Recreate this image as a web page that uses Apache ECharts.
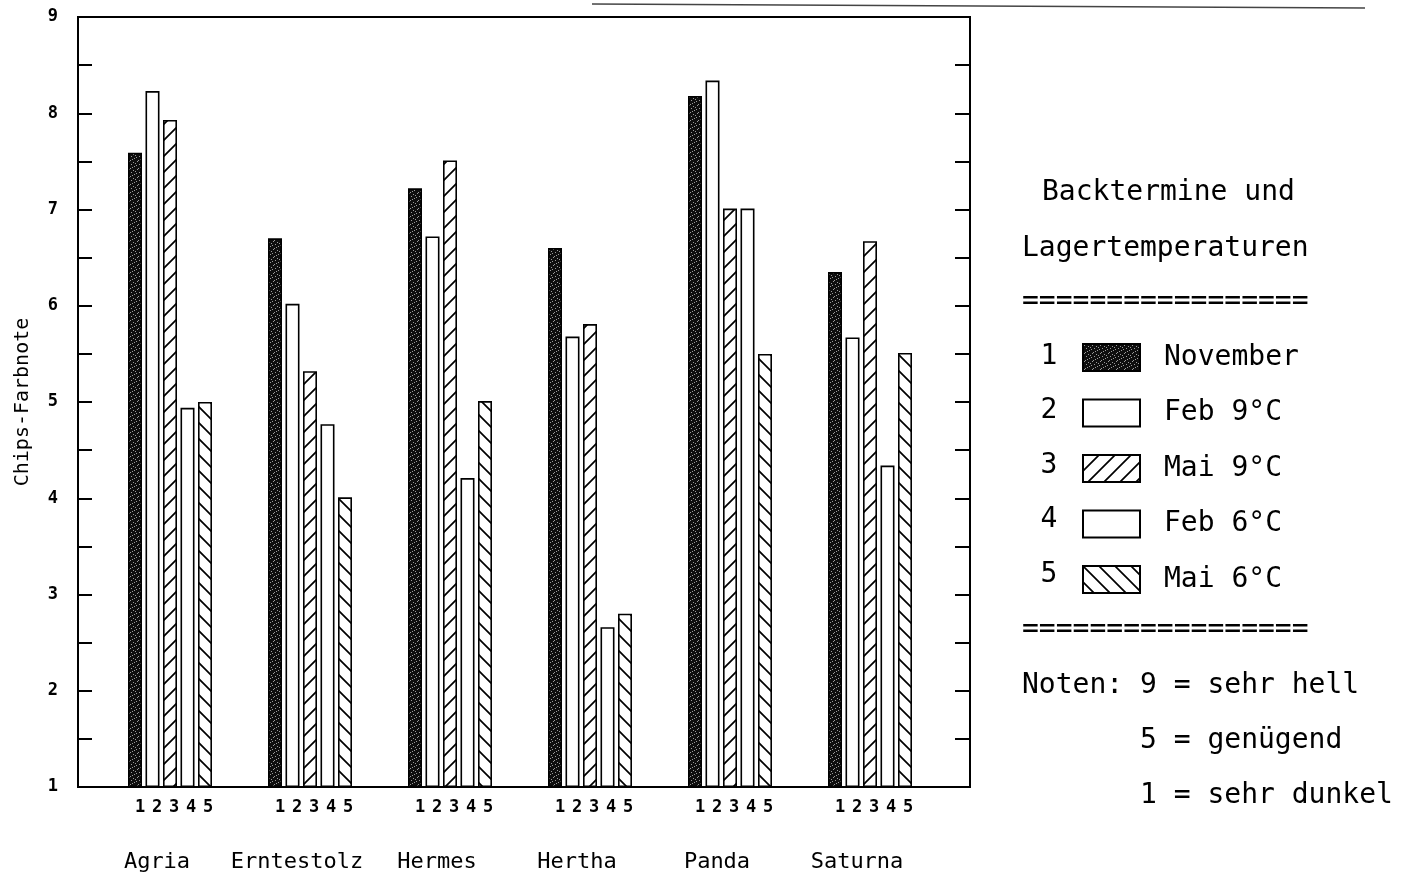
<!DOCTYPE html>
<html><head><meta charset="utf-8">
<script src="https://cdn.jsdelivr.net/npm/echarts@6/dist/echarts.min.js"></script>
<style>html,body{margin:0;padding:0;background:#fff}#c{width:1407px;height:878px}</style>
</head><body><div id="c"></div>
<script>
// ---- data ----
const categories = ['Agria', 'Erntestolz', 'Hermes', 'Hertha', 'Panda', 'Saturna'];
const seriesNames = ['November', 'Feb 9°C', 'Mai 9°C', 'Feb 6°C', 'Mai 6°C'];
const seriesNumbers = ['1', '2', '3', '4', '5'];
const november = [7.59, 6.70, 7.22, 6.60, 8.18, 6.35];
const feb9     = [8.23, 6.02, 6.72, 5.68, 8.34, 5.67];
const mai9     = [7.93, 5.32, 7.51, 5.81, 7.01, 6.67];
const feb6     = [4.94, 4.77, 4.21, 2.66, 7.01, 4.34];
const mai6     = [5.00, 4.01, 5.01, 2.80, 5.50, 5.51];
const yMin = 1, yMax = 9;
const yAxisName = 'Chips-Farbnote';
const legendTitle = ['Backtermine und', 'Lagertemperaturen'];
const separator = '=================';
const notes = ['Noten: 9 = sehr hell', '5 = genügend', '1 = sehr dunkel'];

const allSeries = [november, feb9, mai9, feb6, mai6];
const MONO = 'DejaVu Sans Mono';

function hatch(dir) {
  const s = 16, c = document.createElement('canvas');
  c.width = c.height = s;
  const g = c.getContext('2d');
  g.fillStyle = '#fff'; g.fillRect(0, 0, s, s);
  g.strokeStyle = '#000'; g.lineWidth = 1.7; g.beginPath();
  if (dir > 0) {
    g.moveTo(-2, s + 2); g.lineTo(s + 2, -2);
    g.moveTo(-2, 2); g.lineTo(2, -2);
    g.moveTo(s - 2, s + 2); g.lineTo(s + 2, s - 2);
  } else {
    g.moveTo(-2, -2); g.lineTo(s + 2, s + 2);
    g.moveTo(s - 2, -2); g.lineTo(s + 2, 2);
    g.moveTo(-2, s - 2); g.lineTo(2, s + 2);
  }
  g.stroke();
  return c;
}
function stipple() {
  const s = 8, c = document.createElement('canvas');
  c.width = c.height = s;
  const g = c.getContext('2d');
  g.fillStyle = '#0e0e0e'; g.fillRect(0, 0, s, s);
  g.fillStyle = '#9a9a9a';
  [[1,1],[5,2],[3,4],[6,6],[0,5],[4,7],[7,3],[2,0]].forEach(p => g.fillRect(p[0], p[1], 1, 1));
  return c;
}
const fills = [
  {image: stipple(), repeat: 'repeat'},
  '#ffffff',
  {image: hatch(1), repeat: 'repeat'},
  '#ffffff',
  {image: hatch(-1), repeat: 'repeat'}
];

const chart = echarts.init(document.getElementById('c'), null, {renderer: 'canvas'});

const legendRowY = [357, 411, 466, 520, 575];
const graphic = [
  {type: 'line', shape: {x1: 592, y1: 4, x2: 1365, y2: 8}, style: {stroke: '#444', lineWidth: 1.5}, silent: true},
  {type: 'text', x: 1042, y: 193, style: {text: legendTitle[0], font: '28px ' + MONO, fill: '#000', textVerticalAlign: 'middle'}},
  {type: 'text', x: 1022, y: 249, style: {text: legendTitle[1], font: '28px ' + MONO, fill: '#000', textVerticalAlign: 'middle'}},
  {type: 'text', x: 1022, y: 302, style: {text: separator, font: '28px ' + MONO, fill: '#000', textVerticalAlign: 'middle'}},
  {type: 'text', x: 1022, y: 630, style: {text: separator, font: '28px ' + MONO, fill: '#000', textVerticalAlign: 'middle'}},
  {type: 'text', x: 1022, y: 686, style: {text: notes[0], font: '28px ' + MONO, fill: '#000', textVerticalAlign: 'middle'}},
  {type: 'text', x: 1140, y: 741, style: {text: notes[1], font: '28px ' + MONO, fill: '#000', textVerticalAlign: 'middle'}},
  {type: 'text', x: 1140, y: 796, style: {text: notes[2], font: '28px ' + MONO, fill: '#000', textVerticalAlign: 'middle'}}
];
seriesNumbers.forEach((n, i) => graphic.push({
  type: 'text', x: 1049, y: legendRowY[i],
  style: {text: n, font: '28px ' + MONO, fill: '#000', textAlign: 'center', textVerticalAlign: 'middle'}
}));

const option = {
  animation: false,
  backgroundColor: '#fff',
  grid: [
    {left: 78, top: 17, width: 892, height: 770, show: true, borderColor: '#000', borderWidth: 2, backgroundColor: 'transparent'},
    {left: 100, top: 17, width: 840, height: 770}
  ],
  xAxis: [
    {gridIndex: 0, type: 'value', show: false, min: 0, max: 1},
    {gridIndex: 1, type: 'category', data: categories, position: 'bottom',
     axisLine: {show: false}, axisTick: {show: false},
     axisLabel: {
       interval: 0, margin: 12, padding: [0, 0, 0, 8],
       formatter: () => seriesNumbers.map(n => '{d|' + n + '}').join(''),
       rich: {d: {width: 17, align: 'center', fontFamily: MONO, fontWeight: 'bold', fontSize: 17, color: '#000'}}
     }},
    {gridIndex: 1, type: 'category', data: categories, position: 'bottom',
     axisLine: {show: false}, axisTick: {show: false},
     axisLabel: {interval: 0, margin: 64, padding: [0, 26, 0, 0], fontFamily: MONO, fontSize: 22, color: '#000'}}
  ],
  yAxis: [
    {gridIndex: 0, type: 'value', min: yMin, max: yMax, interval: 0.5, position: 'left',
     name: yAxisName, nameLocation: 'middle', nameGap: 45, nameRotate: 90,
     nameTextStyle: {fontFamily: MONO, fontSize: 20, color: '#000'},
     axisLine: {show: true, lineStyle: {color: '#000', width: 2}},
     axisTick: {show: true, inside: true, length: 14, lineStyle: {color: '#000', width: 2}},
     axisLabel: {margin: 20, fontFamily: MONO, fontWeight: 'bold', fontSize: 17, color: '#000',
       formatter: v => Number.isInteger(v) ? String(v) : ''},
     splitLine: {show: false}},
    {gridIndex: 0, type: 'value', min: yMin, max: yMax, interval: 0.5, position: 'right',
     axisLine: {show: true, lineStyle: {color: '#000', width: 2}},
     axisTick: {show: true, inside: true, length: 15, lineStyle: {color: '#000', width: 2}},
     axisLabel: {show: false}, splitLine: {show: false}},
    {gridIndex: 1, type: 'value', min: yMin, max: yMax, startValue: yMin, show: false, splitLine: {show: false}}
  ],
  legend: {
    orient: 'vertical', left: 1082, top: 343, itemWidth: 57, itemHeight: 27, itemGap: 26.5,
    icon: 'rect', padding: 0, selectedMode: false,
    textStyle: {fontFamily: MONO, fontSize: 28, color: '#000', padding: [0, 0, 0, 19]},
    data: seriesNames.map(n => ({name: n, itemStyle: {borderColor: '#000', borderWidth: 2}}))
  },
  graphic: graphic,
  series: allSeries.map((d, i) => ({
    type: 'bar', name: seriesNames[i], xAxisIndex: 1, yAxisIndex: 2, data: d,
    barWidth: 14, barGap: '25%', clip: true,
    itemStyle: {color: fills[i], borderColor: '#000', borderWidth: 1.6},
    emphasis: {disabled: true}
  }))
};
chart.setOption(option);
</script></body></html>
